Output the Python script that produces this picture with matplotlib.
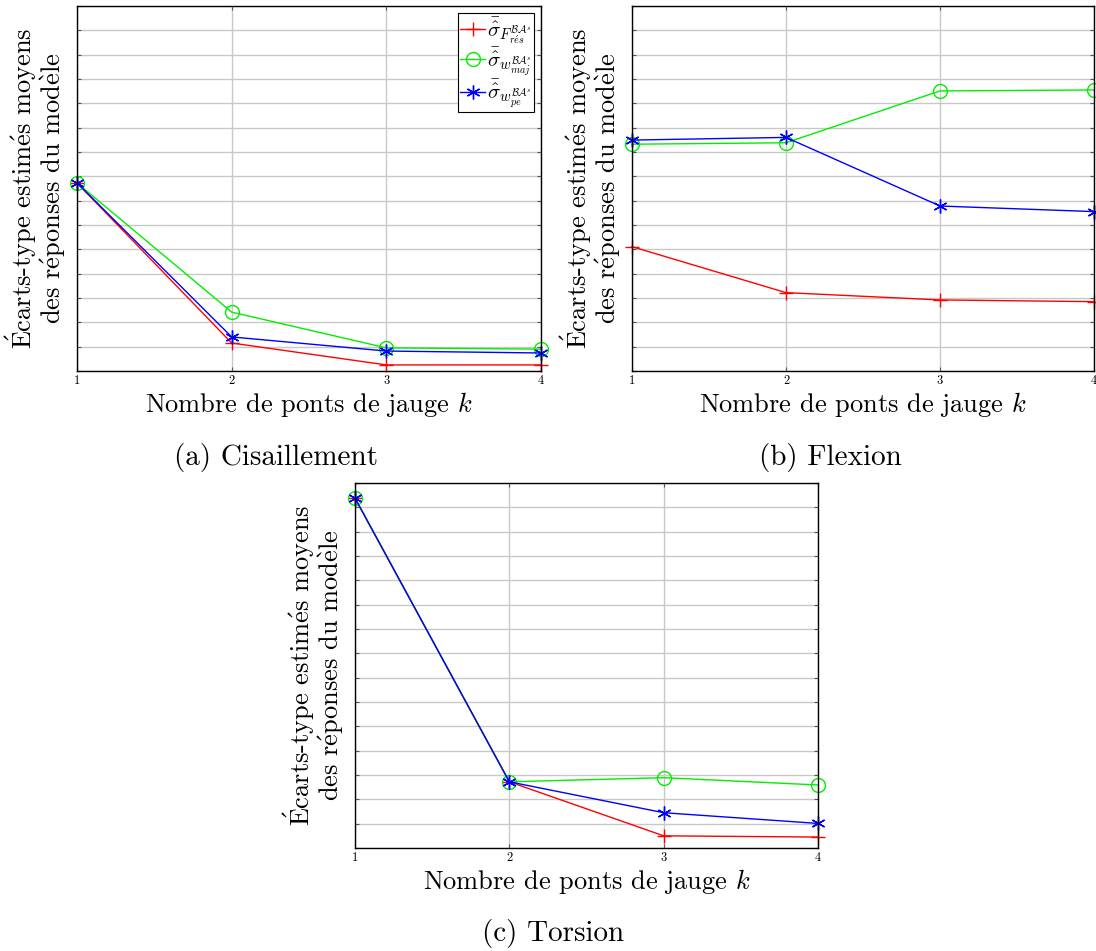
import matplotlib
matplotlib.use("Agg")
import matplotlib.pyplot as plt

plt.rcParams['mathtext.fontset'] = 'cm'
plt.rcParams['font.family'] = ['cmr10', 'DejaVu Serif']
plt.rcParams['axes.formatter.use_mathtext'] = True

k = [1, 2, 3, 4]
xtick_labels = ['1', '2', '3', '4']

# Cisaillement
cis_F_res = [7.73, 1.15, 0.25, 0.25]
cis_w_maj = [7.73, 2.42, 0.95, 0.90]
cis_w_pe = [7.73, 1.40, 0.82, 0.74]
# Flexion
flex_F_res = [5.11, 3.22, 2.92, 2.85]
flex_w_maj = [9.32, 9.38, 11.51, 11.55]
flex_w_pe = [9.49, 9.60, 6.78, 6.55]
# Torsion
tor_F_res = [14.38, 2.72, 0.50, 0.45]
tor_w_maj = [14.38, 2.72, 2.89, 2.59]
tor_w_pe = [14.38, 2.72, 1.45, 1.01]

labels = [r'$\bar{\hat{\sigma}}_{F^{\mathcal{BA}^s}_{r\acute{e}s}}$',
          r'$\bar{\hat{\sigma}}_{w^{\mathcal{BA}^s}_{maj}}$',
          r'$\bar{\hat{\sigma}}_{w^{\mathcal{BA}^s}_{pe}}$']

W, H = 1096, 951
fig = plt.figure(figsize=(W / 100, H / 100), dpi=100)

def ax_at(l, r, t, b):
    return fig.add_axes([l / W, 1 - b / H, (r - l) / W, (b - t) / H])

ylabel = ("$\\mathrm{\\acute{E}}$carts-type estim$\\mathrm{\\acute{e}}$s moyens\n"
          "des r$\\mathrm{\\acute{e}}$ponses du mod$\\mathrm{\\grave{e}}$le")
xlabel = r"Nombre de ponts de jauge $k$"

def draw(ax, F, M, P, caption, cap_xy, ylab_x, legend=False):
    ax.set_xlim(1, 4)
    ax.set_ylim(0, 15)
    ax.set_xticks(k)
    ax.set_xticklabels(xtick_labels, fontsize=9)
    ax.set_yticks(range(0, 16))
    ax.set_yticklabels([])
    ax.grid(True, color='#c8c8c8', lw=1)
    ax.set_axisbelow(True)
    ax.tick_params(direction='in', length=3, width=0.8, top=True, right=True, pad=3,
                   colors='#555555', labelcolor='black')
    for s in ax.spines.values():
        s.set_linewidth(1.0)
        s.set_color('black')
    ax.plot(k, F, color='red', marker='+', ms=10, mew=1, lw=1, clip_on=False, label=labels[0])
    ax.plot(k, M, color='#00ee00', marker='o', ms=10, mfc='none', mew=1, lw=1, clip_on=False, label=labels[1])
    ax.plot(k, P, color='blue', marker=(6, 2, 0), ms=10, mew=1, lw=1, clip_on=False, label=labels[2])
    ax.set_xlabel(xlabel, fontsize=19, labelpad=2)
    bb = ax.get_position()
    fig.text(ylab_x / W, (bb.y0 + bb.y1) / 2, ylabel, rotation=90, ha='center', va='center',
             multialignment='center', fontsize=19, linespacing=1.0)
    fig.text(cap_xy[0] / W, 1 - cap_xy[1] / H, caption, ha='center', va='center', fontsize=21)
    if legend:
        leg = ax.legend(loc='upper right', fontsize=15, handlelength=1.2, handletextpad=0.1,
                        borderpad=0.1, labelspacing=0.0, fancybox=False, framealpha=1,
                        borderaxespad=0.35, edgecolor='black')
        leg.get_frame().set_linewidth(0.8)

axa = ax_at(77, 541, 6, 371)
draw(axa, cis_F_res, cis_w_maj, cis_w_pe, '(a) Cisaillement', (276, 457), 36, legend=True)
axb = ax_at(632, 1094, 6, 371)
draw(axb, flex_F_res, flex_w_maj, flex_w_pe, '(b) Flexion', (830, 457), 591)
axc = ax_at(355, 818, 483, 848)
draw(axc, tor_F_res, tor_w_maj, tor_w_pe, '(c) Torsion', (553, 933), 314)

fig.savefig('out.png', dpi=100)
